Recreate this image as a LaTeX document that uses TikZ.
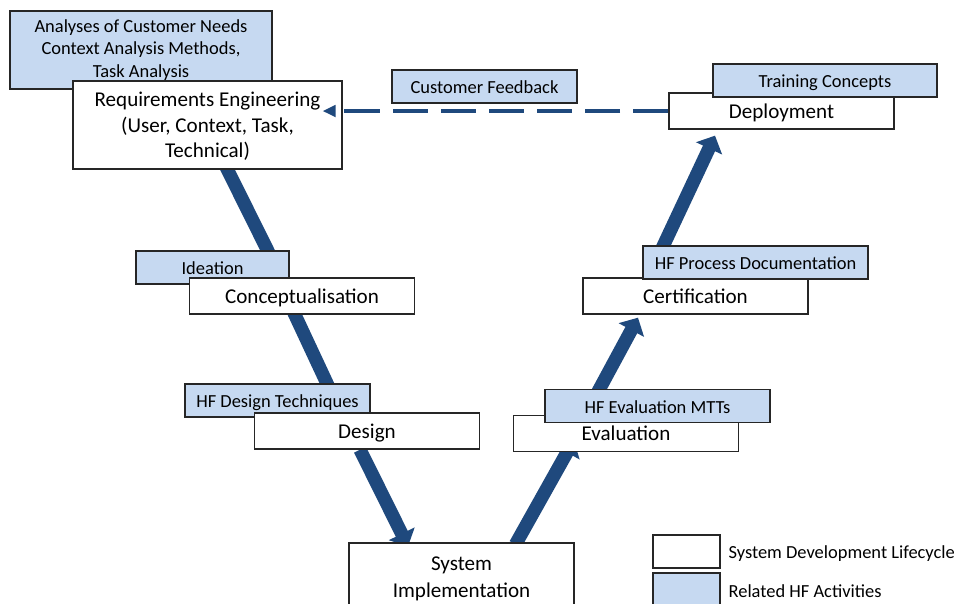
\documentclass[tikz,border=0pt]{standalone}
\usepackage{fontspec}
\setmainfont{Carlito}
\usepackage{xcolor}
\usetikzlibrary{arrows.meta, positioning, calc, backgrounds}
\definecolor{vblue}{RGB}{31,73,125}
\definecolor{hfblue}{RGB}{198,217,241}

\begin{document}
\begin{tikzpicture}[
  x=0.02cm, y=-0.02cm,
  stage/.style={rectangle, draw=black!85, line width=0.75pt, fill=white,
                minimum width=4.5cm, minimum height=0.72cm, align=center,
                inner sep=1pt, text height=0.8em, text depth=0pt,
                font=\fontsize{12}{14.5}\selectfont},
  hfact/.style={stage, fill=hfblue, minimum height=0.66cm,
                font=\fontsize{10.5}{12.6}\selectfont},
  multi/.style 2 args={text height=#1, text depth=#2},
  link/.style={line width=7.6pt, vblue},
  flow/.style={link, -{Triangle[length=8pt,width=16pt]}},
  fb/.style={-{Triangle[length=7.4pt,width=6.5pt]}, line width=1.9pt, vblue,
             dash pattern=on 20pt off 7.4pt, shorten >=-11.4pt},
  legtxt/.style={font=\fontsize{10.5}{12}\selectfont, text height=0.8em, text depth=0pt},
]
\useasboundingbox (0,0) rectangle (955,603);

% Left branch
\node[hfact, multi={33pt}{2.2pt}, minimum width=5.24cm, minimum height=1.56cm] (needs)
  at (141,50) {Analyses of Customer Needs\\Context Analysis Methods,\\Task Analysis};
\node[stage, multi={40.2pt}{3pt}, minimum width=5.38cm, minimum height=1.76cm] (req)
  at (207.5,125) {Requirements Engineering\\(User, Context, Task,\\Technical)};
\node[hfact, minimum width=3.06cm] (idea) at (212.5,267.5) {Ideation};
\node[stage] (concept) at (302,296) {Conceptualisation};
\node[hfact, minimum width=3.7cm] (hfdt) at (277.5,400.5) {HF Design Techniques};
\node[stage] (design) at (367,431) {Design};

% Bottom
\node[stage, multi={26pt}{2.4pt}, minimum height=1.34cm,
      font=\fontsize{12}{15.4}\selectfont] (impl) at (461.5,576.5) {System\\Implementation};

% Right branch
\node[stage] (eval) at (626,433.5) {Evaluation};
\node[hfact] (mtts) at (657.5,406) {HF Evaluation MTTs};
\node[stage] (cert) at (695.5,296) {Certification};
\node[hfact] (hfpd) at (755.5,262.5) {HF Process Documentation};
\node[stage] (deploy) at (781.5,111) {Deployment};
\node[hfact, minimum width=4.48cm] (train) at (825,80.5) {Training Concepts};
\node[hfact, minimum width=3.7cm] (custfb) at (484.5,86.5) {Customer Feedback};

% Legend
\node[stage, minimum width=1.34cm, minimum height=0.66cm] (legsdl) at (686.5,551.5) {};
\node[hfact, minimum width=1.34cm, minimum height=0.68cm] (leghf) at (686.5,590) {};
\node[legtxt, right=1pt of legsdl] (legsdltxt) {System Development Lifecycle};
\node[legtxt, right=1pt of leghf] (leghftxt) {Related HF Activities};

% Lifecycle arrows
\begin{scope}[on background layer]
  \draw[link] ($(req.south)+(18,-4)$) -- ($(concept.north)+(-21,0)$);
  \draw[link] ($(concept.south)+(-9,-4)$) -- ($(design.north)+(-26.5,0)$);
  \draw[flow] ($(design.south)+(-7,0)$) -- ($(impl.north)+(-53.5,4)$);
  \draw[flow] ($(impl.north)+(54,2)$) -- ($(eval.south west)+(61,-12)$);
  \draw[flow] ($(eval.north)+(-40.5,0)$) -- ($(cert.south)+(-57.5,3)$);
  \draw[flow] ($(cert.north)+(-47,0)$) -- ($(deploy.south)+(-66.5,6)$);
\end{scope}
\draw[fb] (deploy.west) -- (deploy.west -| req.east);
\end{tikzpicture}
\end{document}
